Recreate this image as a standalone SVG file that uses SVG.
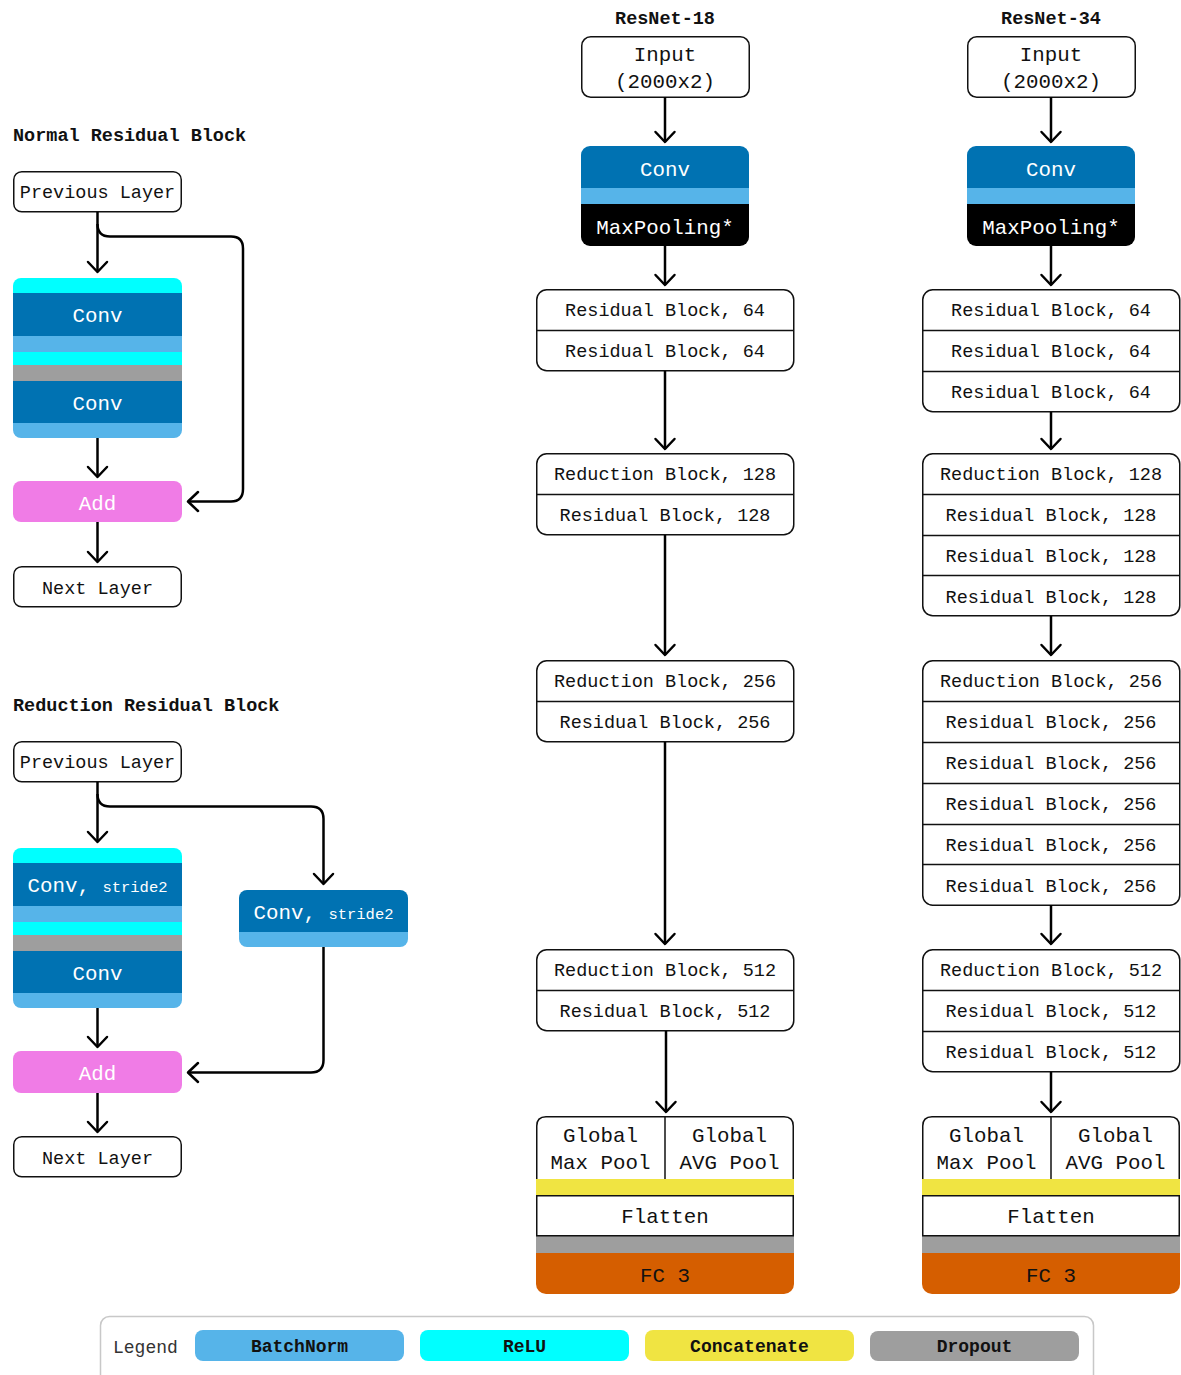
<svg xmlns="http://www.w3.org/2000/svg" width="1181" height="1375" viewBox="0 0 1181 1375">
  <defs>
    <marker id="arrow" viewBox="-12 -12 24 24" refX="0" refY="0" markerWidth="24" markerHeight="24" markerUnits="userSpaceOnUse" orient="auto" overflow="visible">
      <path d="M-10,-9.5 L0,0 L-10,9.5" fill="none" stroke="#000" stroke-width="2.5" stroke-linejoin="round" stroke-linecap="round"/>
    </marker>
    <clipPath id="clipStackA"><rect x="13" y="278" width="169" height="160" rx="8"/></clipPath>
    <clipPath id="clipStackB"><rect x="13" y="848" width="169" height="160" rx="8"/></clipPath>
    <clipPath id="clipSide"><rect x="239" y="890" width="169" height="57" rx="8"/></clipPath>
    <clipPath id="clipStem18"><rect x="581" y="146" width="168" height="100" rx="9"/></clipPath>
    <clipPath id="clipStem34"><rect x="967" y="146" width="168" height="100" rx="9"/></clipPath>
    <clipPath id="clipHead18"><rect x="536" y="1116" width="258" height="178" rx="10"/></clipPath>
    <clipPath id="clipHead34"><rect x="922" y="1116" width="258" height="178" rx="10"/></clipPath>
  </defs>
  <style>
    text { font-family: "Liberation Mono", "DejaVu Sans Mono", monospace; fill: #111; text-anchor: middle; }
    .t { font-size: 18.5px; }
    .tl { font-size: 20.8px; }
    .ts { font-size: 15.5px; }
    .title { font-size: 18.5px; font-weight: bold; }
    .left { text-anchor: start; }
    .w { fill: #fff; }
    .box { fill: #fff; stroke: #111; stroke-width: 1.5; }
    .div { stroke: #111; stroke-width: 1.5; fill: none; }
    .cyan { fill: #00FFFF; }
    .dark { fill: #0072B2; }
    .light { fill: #56B4E9; }
    .gray { fill: #9E9E9E; }
    .pink { fill: #F07CE6; }
    .yellow { fill: #F0E442; }
    .orange { fill: #D55E00; }
    .conn path { fill: none; stroke: #000; stroke-width: 2.5; stroke-linejoin: round; marker-end: url(#arrow); }
    .legend text { font-size: 18px; font-weight: bold; }
  </style>
  <rect width="1181" height="1375" fill="#fff"/>

  <!-- Section titles -->
  <text class="title left" x="13" y="141">Normal Residual Block</text>
  <text class="title left" x="13" y="711">Reduction Residual Block</text>
  <text class="title" x="665" y="24">ResNet-18</text>
  <text class="title" x="1051" y="24">ResNet-34</text>

  <!-- Normal residual block -->
  <g id="nrb-prev">
    <rect class="box" x="13.75" y="171.75" width="167.5" height="40" rx="8"/>
    <text class="t" x="97.5" y="198">Previous Layer</text>
  </g>
  <g id="nrb-stack" clip-path="url(#clipStackA)">
    <rect class="cyan" x="13" y="278" width="169" height="15"/>
    <rect class="dark" x="13" y="293" width="169" height="43"/>
    <rect class="light" x="13" y="336" width="169" height="16"/>
    <rect class="cyan" x="13" y="352" width="169" height="13"/>
    <rect class="gray" x="13" y="365" width="169" height="16"/>
    <rect class="dark" x="13" y="381" width="169" height="42"/>
    <rect class="light" x="13" y="423" width="169" height="15"/>
    <text class="tl w" x="97.5" y="322">Conv</text>
    <text class="tl w" x="97.5" y="410">Conv</text>
  </g>
  <g id="nrb-add">
    <rect class="pink" x="13" y="481" width="169" height="41" rx="8"/>
    <text class="tl w" x="97.5" y="510">Add</text>
  </g>
  <g id="nrb-next">
    <rect class="box" x="13.75" y="566.75" width="167.5" height="40" rx="8"/>
    <text class="t" x="97.5" y="594">Next Layer</text>
  </g>

  <!-- Reduction residual block -->
  <g id="rrb-prev">
    <rect class="box" x="13.75" y="741.75" width="167.5" height="40" rx="8"/>
    <text class="t" x="97.5" y="768">Previous Layer</text>
  </g>
  <g id="rrb-stack" clip-path="url(#clipStackB)">
    <rect class="cyan" x="13" y="848" width="169" height="15"/>
    <rect class="dark" x="13" y="863" width="169" height="43"/>
    <rect class="light" x="13" y="906" width="169" height="16"/>
    <rect class="cyan" x="13" y="922" width="169" height="13"/>
    <rect class="gray" x="13" y="935" width="169" height="16"/>
    <rect class="dark" x="13" y="951" width="169" height="42"/>
    <rect class="light" x="13" y="993" width="169" height="15"/>
    <text class="w" x="97.5" y="892"><tspan class="tl">Conv, </tspan><tspan class="ts">stride2</tspan></text>
    <text class="tl w" x="97.5" y="980">Conv</text>
  </g>
  <g id="rrb-shortcut" clip-path="url(#clipSide)">
    <rect class="dark" x="239" y="890" width="169" height="42"/>
    <rect class="light" x="239" y="932" width="169" height="15"/>
    <text class="w" x="323.5" y="919"><tspan class="tl">Conv, </tspan><tspan class="ts">stride2</tspan></text>
  </g>
  <g id="rrb-add">
    <rect class="pink" x="13" y="1051" width="169" height="42" rx="8"/>
    <text class="tl w" x="97.5" y="1080">Add</text>
  </g>
  <g id="rrb-next">
    <rect class="box" x="13.75" y="1136.75" width="167.5" height="40" rx="8"/>
    <text class="t" x="97.5" y="1164">Next Layer</text>
  </g>

  <!-- ResNet-18 -->
  <g id="r18-input">
    <rect class="box" x="581.75" y="36.75" width="167.5" height="60.5" rx="9"/>
    <text class="tl" x="665" y="61">Input</text>
    <text class="tl" x="665" y="88">(2000x2)</text>
  </g>
  <g id="r18-stem" clip-path="url(#clipStem18)">
    <rect class="dark" x="581" y="146" width="168" height="42"/>
    <rect class="light" x="581" y="188" width="168" height="16"/>
    <rect fill="#000" x="581" y="204" width="168" height="42"/>
    <text class="tl w" x="665" y="176">Conv</text>
    <text class="tl w" x="665" y="234">MaxPooling*</text>
  </g>
  <g id="r18-stage64">
    <rect class="box" x="536.75" y="289.75" width="257" height="81" rx="10"/>
    <path class="div" d="M537 330.5 H794"/>
    <text class="t" x="665" y="316">Residual Block, 64</text>
    <text class="t" x="665" y="357">Residual Block, 64</text>
  </g>
  <g id="r18-stage128">
    <rect class="box" x="536.75" y="453.75" width="257" height="81" rx="10"/>
    <path class="div" d="M537 494.5 H794"/>
    <text class="t" x="665" y="480">Reduction Block, 128</text>
    <text class="t" x="665" y="521">Residual Block, 128</text>
  </g>
  <g id="r18-stage256">
    <rect class="box" x="536.75" y="660.75" width="257" height="81" rx="10"/>
    <path class="div" d="M537 701.5 H794"/>
    <text class="t" x="665" y="687">Reduction Block, 256</text>
    <text class="t" x="665" y="728">Residual Block, 256</text>
  </g>
  <g id="r18-stage512">
    <rect class="box" x="536.75" y="949.75" width="257" height="81" rx="10"/>
    <path class="div" d="M537 990.5 H794"/>
    <text class="t" x="665" y="976">Reduction Block, 512</text>
    <text class="t" x="665" y="1017">Residual Block, 512</text>
  </g>
  <g id="r18-head">
    <g clip-path="url(#clipHead18)">
      <rect class="yellow" x="536" y="1179" width="258" height="16"/>
      <rect class="gray" x="536" y="1236" width="258" height="17"/>
      <rect class="orange" x="536" y="1253" width="258" height="41"/>
    </g>
    <path class="box" d="M536.75 1179 V1126 Q536.75 1116.75 546 1116.75 H784 Q793.25 1116.75 793.25 1126 V1179"/>
    <path class="div" d="M665 1117 V1179"/>
    <rect class="box" x="536.75" y="1195.75" width="256.5" height="40"/>
    <text class="tl" x="600.5" y="1142">Global</text>
    <text class="tl" x="600.5" y="1169">Max Pool</text>
    <text class="tl" x="729.5" y="1142">Global</text>
    <text class="tl" x="729.5" y="1169">AVG Pool</text>
    <text class="tl" x="665" y="1223">Flatten</text>
    <text class="tl" x="665" y="1282">FC 3</text>
  </g>

  <!-- ResNet-34 -->
  <g id="r34-input">
    <rect class="box" x="967.75" y="36.75" width="167.5" height="60.5" rx="9"/>
    <text class="tl" x="1051" y="61">Input</text>
    <text class="tl" x="1051" y="88">(2000x2)</text>
  </g>
  <g id="r34-stem" clip-path="url(#clipStem34)">
    <rect class="dark" x="967" y="146" width="168" height="42"/>
    <rect class="light" x="967" y="188" width="168" height="16"/>
    <rect fill="#000" x="967" y="204" width="168" height="42"/>
    <text class="tl w" x="1051" y="176">Conv</text>
    <text class="tl w" x="1051" y="234">MaxPooling*</text>
  </g>
  <g id="r34-stage64">
    <rect class="box" x="922.75" y="289.75" width="257" height="122" rx="10"/>
    <path class="div" d="M923 330.5 H1180 M923 371.5 H1180"/>
    <text class="t" x="1051" y="316">Residual Block, 64</text>
    <text class="t" x="1051" y="357">Residual Block, 64</text>
    <text class="t" x="1051" y="398">Residual Block, 64</text>
  </g>
  <g id="r34-stage128">
    <rect class="box" x="922.75" y="453.75" width="257" height="162" rx="10"/>
    <path class="div" d="M923 494.5 H1180 M923 535.5 H1180 M923 575.5 H1180"/>
    <text class="t" x="1051" y="480">Reduction Block, 128</text>
    <text class="t" x="1051" y="521">Residual Block, 128</text>
    <text class="t" x="1051" y="562">Residual Block, 128</text>
    <text class="t" x="1051" y="603">Residual Block, 128</text>
  </g>
  <g id="r34-stage256">
    <rect class="box" x="922.75" y="660.75" width="257" height="244.5" rx="10"/>
    <path class="div" d="M923 701.5 H1180 M923 742.5 H1180 M923 783.5 H1180 M923 824.5 H1180 M923 864.5 H1180"/>
    <text class="t" x="1051" y="687">Reduction Block, 256</text>
    <text class="t" x="1051" y="728">Residual Block, 256</text>
    <text class="t" x="1051" y="769">Residual Block, 256</text>
    <text class="t" x="1051" y="810">Residual Block, 256</text>
    <text class="t" x="1051" y="851">Residual Block, 256</text>
    <text class="t" x="1051" y="892">Residual Block, 256</text>
  </g>
  <g id="r34-stage512">
    <rect class="box" x="922.75" y="949.75" width="257" height="122" rx="10"/>
    <path class="div" d="M923 990.5 H1180 M923 1031.5 H1180"/>
    <text class="t" x="1051" y="976">Reduction Block, 512</text>
    <text class="t" x="1051" y="1017">Residual Block, 512</text>
    <text class="t" x="1051" y="1058">Residual Block, 512</text>
  </g>
  <g id="r34-head">
    <g clip-path="url(#clipHead34)">
      <rect class="yellow" x="922" y="1179" width="258" height="16"/>
      <rect class="gray" x="922" y="1236" width="258" height="17"/>
      <rect class="orange" x="922" y="1253" width="258" height="41"/>
    </g>
    <path class="box" d="M922.75 1179 V1126 Q922.75 1116.75 932 1116.75 H1170 Q1179.25 1116.75 1179.25 1126 V1179"/>
    <path class="div" d="M1051 1117 V1179"/>
    <rect class="box" x="922.75" y="1195.75" width="256.5" height="40"/>
    <text class="tl" x="986.5" y="1142">Global</text>
    <text class="tl" x="986.5" y="1169">Max Pool</text>
    <text class="tl" x="1115.5" y="1142">Global</text>
    <text class="tl" x="1115.5" y="1169">AVG Pool</text>
    <text class="tl" x="1051" y="1223">Flatten</text>
    <text class="tl" x="1051" y="1282">FC 3</text>
  </g>

  <!-- Connectors -->
  <g id="connectors" class="conn">
    <path d="M97.5 212 V272"/>
    <path d="M97.5 224 Q97.5 236.5 110 236.5 H231 Q243 236.5 243 248.5 V489 Q243 501.5 231 501.5 H188"/>
    <path d="M97.5 438 V477"/>
    <path d="M97.5 522 V562"/>
    <path d="M97.5 782 V842"/>
    <path d="M97.5 794 Q97.5 806.5 110 806.5 H311 Q323.5 806.5 323.5 819 V884"/>
    <path d="M323.5 947 V1060 Q323.5 1072.5 311 1072.5 H188"/>
    <path d="M97.5 1008 V1047"/>
    <path d="M97.5 1093 V1132"/>

    <path d="M665 97 V142"/>
    <path d="M665 246 V285"/>
    <path d="M665 371 V449"/>
    <path d="M665 535 V655"/>
    <path d="M665 742 V944"/>
    <path d="M666 1031 V1112"/>

    <path d="M1051 97 V142"/>
    <path d="M1051 246 V285"/>
    <path d="M1051 412 V449"/>
    <path d="M1051 616 V655"/>
    <path d="M1051 905 V944"/>
    <path d="M1051 1072 V1112"/>
  </g>

  <!-- Legend -->
  <g id="legend" class="legend">
    <rect x="100.5" y="1316.5" width="993" height="80" rx="9" fill="#fff" stroke="#c8c8c8" stroke-width="1.5"/>
    <text x="113" y="1353" style="text-anchor:start;font-weight:normal;fill:#333">Legend</text>
    <rect class="light" x="195" y="1330" width="209" height="31" rx="8"/>
    <text x="299.5" y="1352">BatchNorm</text>
    <rect class="cyan" x="420" y="1330" width="209" height="31" rx="8"/>
    <text x="524.5" y="1352">ReLU</text>
    <rect class="yellow" x="645" y="1330" width="209" height="31" rx="8"/>
    <text x="749.5" y="1352">Concatenate</text>
    <rect class="gray" x="870" y="1331" width="209" height="30" rx="8"/>
    <text x="974.5" y="1352">Dropout</text>
  </g>
</svg>
